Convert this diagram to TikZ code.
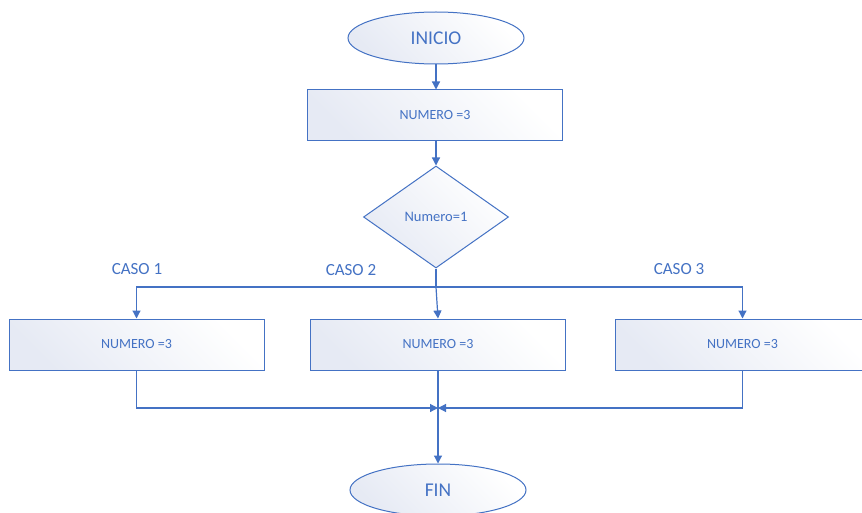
\documentclass[tikz,border=0pt]{standalone}
\usepackage{fontspec}
\setmainfont{Carlito}
\usetikzlibrary{shapes.geometric,arrows.meta}
\definecolor{officeblue}{HTML}{4472C4}
\definecolor{boxfill}{HTML}{E6EAF4}
\tikzset{
  shapebase/.style={draw=officeblue, line width=1pt, text=officeblue,
    left color=boxfill, right color=white, shading angle=135, inner sep=0pt},
  terminal/.style={shapebase, ellipse, minimum width=176pt, minimum height=52pt,
    font=\fontsize{19.5}{22}\selectfont},
  procbox/.style={shapebase, rectangle, minimum width=255pt, minimum height=51pt,
    font=\fontsize{14}{16}\selectfont},
  decision/.style={shapebase, diamond, aspect=1.42, minimum width=145pt, minimum height=102pt,
    font=\fontsize{14.5}{16}\selectfont},
  caselabel/.style={text=officeblue, font=\fontsize{17}{19}\selectfont, inner sep=0pt},
  conn/.style={draw=officeblue, line width=1.2pt},
  arr/.style={conn, -{Triangle[length=8pt,width=8pt]}}
}
\begin{document}
\begin{tikzpicture}[x=1pt,y=-1pt]
\clip (0,0) rectangle (862,513);
\fill[white] (0,0) rectangle (862,513);
\node[terminal] (inicio) at (436,38) {INICIO};
\node[procbox] (p0) at (435,115.5) {NUMERO =3};
\node[decision] (dec) at (436,217) {Numero=1};
\node[procbox] (b1) at (136.5,344.5) {NUMERO =3};
\node[procbox] (b2) at (438,344.5) {NUMERO =3};
\node[procbox] (b3) at (742.5,344.5) {NUMERO =3};
\node[terminal] (fin) at (438,490) {FIN};
\node[caselabel] (c1) at (137,269) {CASO 1};
\node[caselabel] (c2) at (351,270) {CASO 2};
\node[caselabel] (c3) at (679,269) {CASO 3};
\coordinate (split) at (436,287);
\coordinate (join) at (438,408);
\draw[arr] (inicio.south) -- (inicio.south |- p0.north);
\draw[arr] (p0.south -| dec.north) -- (dec.north);
\draw[conn] (dec.south) -- (split);
\draw[arr] (split) -| (b1.north);
\draw[arr] (split) -| (b3.north);
\draw[arr] (split) -- (b2.north);
\draw[arr] (b1.south) |- (join);
\draw[arr] (b3.south) |- (join);
\draw[arr] (b2.south) -- (fin.north);
\end{tikzpicture}
\end{document}
